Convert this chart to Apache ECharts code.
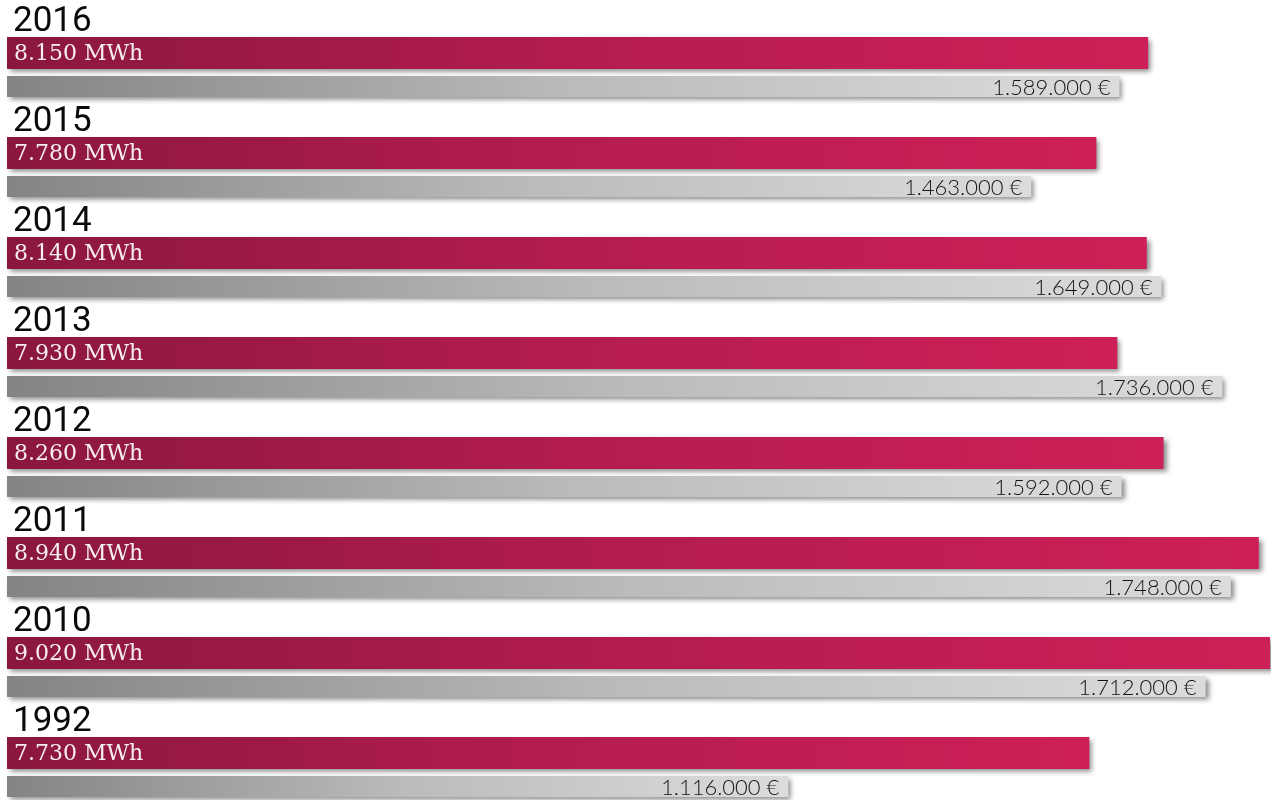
<!DOCTYPE html>
<html>
<head>
<meta charset="utf-8">
<title>Energieverbrauch und Kosten</title>
<script src="https://cdn.jsdelivr.net/npm/echarts@6/dist/echarts.min.js"></script>
<style>
  html, body { margin: 0; padding: 0; background: #ffffff; }
  #chart { width: 1271px; height: 800px; }
</style>
</head>
<body>
<div id="chart"></div>
<script>
// Jahre, Verbrauch (MWh) und Kosten (€)
const years = ['2016', '2015', '2014', '2013', '2012', '2011', '2010', '1992'];
const energyMWh = [8150, 7780, 8140, 7930, 8260, 8940, 9020, 7730];
const costEUR = [1589000, 1463000, 1649000, 1736000, 1592000, 1748000, 1712000, 1116000];

// Axis ranges for the two value scales
const energyMax = 9020;
const costMax = 1804000;

function withDots(n) {
  return String(n).replace(/\B(?=(\d{3})+(?!\d))/g, '.');
}

const shadow = {
  shadowColor: 'rgba(0,0,0,0.45)',
  shadowBlur: 5,
  shadowOffsetX: 3,
  shadowOffsetY: 3
};

const chart = echarts.init(document.getElementById('chart'), null, { renderer: 'canvas' });

chart.setOption({
  animation: false,
  grid: { left: 7, top: 0, width: 1263, height: 800 },
  xAxis: [
    { type: 'value', min: 0, max: energyMax, show: false },
    { type: 'value', min: 0, max: costMax, show: false }
  ],
  yAxis: {
    type: 'category',
    data: years,
    inverse: true,
    axisLine: { show: false },
    axisTick: { show: false },
    splitLine: { show: false },
    axisLabel: { show: false }
  },
  series: [
    {
      // heading row: carries the year above each pair of bars
      name: 'Jahr',
      type: 'bar',
      xAxisIndex: 0,
      data: energyMWh,
      barWidth: 27.9,
      barGap: '21.875%',
      silent: true,
      itemStyle: { color: 'rgba(0,0,0,0)' },
      label: {
        show: true,
        position: 'insideLeft',
        distance: 6,
        offset: [0, 5],
        color: '#0a0a0a',
        fontFamily: 'Roboto',
        fontSize: 35,
        formatter: p => p.name
      }
    },
    {
      name: 'Verbrauch',
      type: 'bar',
      xAxisIndex: 0,
      data: energyMWh,
      barWidth: 32,
      barGap: '21.875%',
      itemStyle: Object.assign({
        color: new echarts.graphic.LinearGradient(0, 0, 1, 0, [
          { offset: 0, color: '#8a1740' },
          { offset: 0.5, color: '#b41c4f' },
          { offset: 1, color: '#cd2057' }
        ])
      }, shadow),
      label: {
        show: true,
        position: 'insideLeft',
        distance: 7,
        offset: [0, 1],
        color: '#f7eef1',
        fontFamily: 'DejaVu Serif',
        fontSize: 22,
        formatter: p => withDots(p.value) + ' MWh'
      }
    },
    {
      name: 'Kosten',
      type: 'bar',
      xAxisIndex: 1,
      data: costEUR,
      barWidth: 21,
      barGap: '21.875%',
      itemStyle: Object.assign({
        color: new echarts.graphic.LinearGradient(0, 0, 1, 0, [
          { offset: 0, color: '#848484' },
          { offset: 0.5, color: '#bababa' },
          { offset: 1, color: '#dcdcdc' }
        ])
      }, shadow),
      label: {
        show: true,
        position: 'insideRight',
        distance: 9,
        offset: [0, 1],
        color: '#141414',
        fontFamily: 'Lato',
        fontWeight: 300,
        fontSize: 22,
        formatter: p => withDots(p.value) + ' €'
      }
    }
  ]
});
</script>
</body>
</html>
